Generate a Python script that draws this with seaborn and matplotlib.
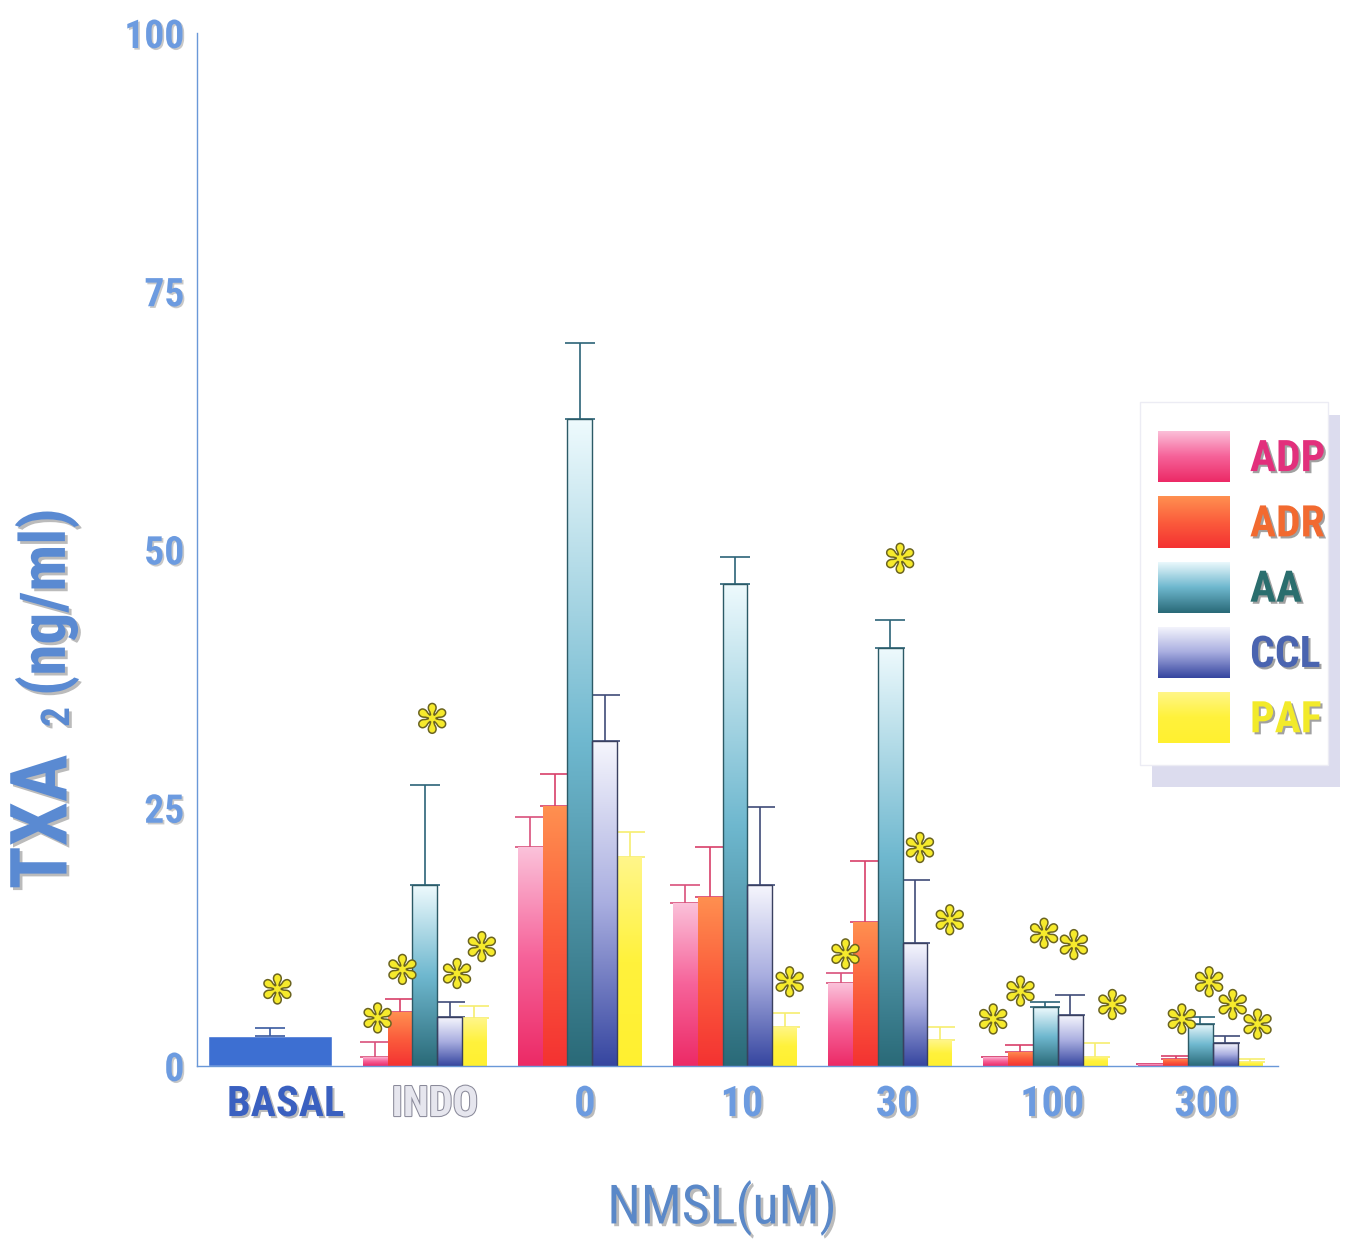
import numpy as np
import pandas as pd
import matplotlib
matplotlib.use("Agg")
import matplotlib.pyplot as plt
import seaborn as sns
from matplotlib import patheffects as pe
from matplotlib import font_manager as fm
from matplotlib import transforms as mtrans
from matplotlib.colors import LinearSegmentedColormap
from matplotlib.patches import Rectangle, Patch

# ---------------- data ----------------
categories = ["BASAL", "INDO", "0", "10", "30", "100", "300"]
agonists = ["ADP", "ADR", "AA", "CCL", "PAF"]
treatments = ["INDO", "0", "10", "30", "100", "300"]

basal_mean = 2.9
basal_err = 0.8

adp = [0.9, 21.2, 15.8, 8.0, 0.9, 0.15]
adr = [5.2, 25.2, 16.4, 13.9, 1.4, 0.7]
aa = [17.5, 62.6, 46.7, 40.5, 5.7, 4.1]
ccl = [4.7, 31.5, 17.5, 11.9, 4.9, 2.2]
paf = [4.6, 20.2, 3.8, 2.5, 0.9, 0.4]

adp_err = [1.4, 2.9, 1.7, 1.0, 0.0, 0.0]
adr_err = [1.3, 3.1, 4.8, 5.9, 0.6, 0.3]
aa_err = [9.7, 7.4, 2.6, 2.7, 0.5, 0.6]
ccl_err = [1.5, 4.4, 7.6, 6.1, 2.0, 0.7]
paf_err = [1.2, 2.5, 1.3, 1.3, 1.3, 0.3]

# significance asterisks: category, agonist (None = basal bar), height
star_cat = ["BASAL", "INDO", "INDO", "INDO", "INDO", "INDO", "10", "30", "30", "30", "30",
            "100", "100", "100", "100", "100", "300", "300", "300", "300"]
star_agonist = [None, "ADP", "ADR", "AA", "CCL", "PAF", "PAF", "ADP", "AA", "CCL", "PAF",
                "ADP", "ADR", "AA", "CCL", "PAF", "ADR", "AA", "CCL", "PAF"]
star_y = [7.1, 4.3, 9.0, 33.3, 8.6, 11.2, 7.8, 10.5, 48.8, 20.8, 13.8,
          4.2, 6.9, 12.5, 11.4, 5.6, 4.2, 7.8, 5.6, 3.7]
# horizontal nudge of each asterisk, in bar widths
star_dx = [0.0, 0.1, 0.1, 0.3, 0.3, 0.3, 0.2, 0.2, 0.4, 0.2, 0.4,
           -0.1, 0.0, -0.05, 0.15, 0.7, 0.25, 0.35, 0.3, 0.3]

# ---------------- styles ----------------
grad_stops = {
    "ADP": ["#fbc2da", "#f6639a", "#ec2a66"],
    "ADR": ["#ff9050", "#fb5c3c", "#f43232"],
    "AA": ["#eefafd", "#6fb8cf", "#2a6a78"],
    "CCL": ["#f6f6fd", "#a9aee0", "#3646a0"],
    "PAF": ["#fff68a", "#fff23c", "#fff030"],
}
mid_col = {k: v[1] for k, v in grad_stops.items()}
err_col = {"ADP": "#d9507c", "ADR": "#d8406a", "AA": "#2c6478", "CCL": "#3f4c78", "PAF": "#f6ee70"}
edge_col = {"ADP": "none", "ADR": "none", "AA": "#2c5a66", "CCL": "#3a4060", "PAF": "none"}
label_col = {"ADP": "#e2307c", "ADR": "#f26a30", "AA": "#2b6e6e", "CCL": "#4a64b0", "PAF": "#f2ea2a"}
axis_col = "#6a98d8"
tick_col = "#6c9be0"
basal_col = "#3d6fd2"

sns.set_style("white")
ttf = fm.fontManager.ttflist
names = {f.name for f in ttf}
if "Roboto Condensed" in names:
    FAM = ["Roboto Condensed", "DejaVu Sans"]
    k = 0.95
elif "Liberation Sans Narrow" in names:
    FAM = ["Liberation Sans Narrow", "DejaVu Sans"]
    k = 1.0
else:
    FAM = ["DejaVu Sans"]
    k = 0.68
plt.rcParams["font.family"] = FAM

W, H = 1349, 1242
fig = plt.figure(figsize=(W / 100, H / 100), dpi=100)
ax = fig.add_axes([197 / W, 1 - 1066 / H, (1278 - 197) / W, (1066 - 33) / H])

# ---------------- bars ----------------
n0 = len(ax.containers)
sns.barplot(x=["BASAL"], y=[basal_mean], order=categories, width=0.8, color=basal_col,
            saturation=1, errorbar=None, ax=ax)
basal_bar = ax.containers[n0][0]

values = {"ADP": adp, "ADR": adr, "AA": aa, "CCL": ccl, "PAF": paf}
errors = {"ADP": adp_err, "ADR": adr_err, "AA": aa_err, "CCL": ccl_err, "PAF": paf_err}
df = pd.DataFrame([(c, a, values[a][i]) for a in agonists for i, c in enumerate(treatments)],
                  columns=["cond", "agonist", "value"])
n1 = len(ax.containers)
sns.barplot(data=df, x="cond", y="value", hue="agonist", order=categories, hue_order=agonists,
            width=0.8, palette=mid_col, saturation=1, errorbar=None, legend=False, ax=ax)

bar_pos = {}
for a, cont in zip(agonists, ax.containers[n1:]):
    bars = sorted(cont.patches, key=lambda b: b.get_x())
    cmap = LinearSegmentedColormap.from_list(a, grad_stops[a])
    xs, hs = [], []
    for c, b in zip(treatments, bars):
        x0, w, h = b.get_x(), b.get_width(), b.get_height()
        im = ax.imshow(np.linspace(0, 1, 256).reshape(-1, 1), cmap=cmap,
                       extent=(x0, x0 + w, 0, h), origin="upper", aspect="auto",
                       interpolation="bicubic", zorder=2.1)
        im.set_clip_path(b)
        b.set_facecolor("none")
        b.set_edgecolor(edge_col[a])
        b.set_linewidth(1.0 if edge_col[a] != "none" else 0)
        b.set_zorder(2.2)
        xs.append(x0 + w / 2)
        hs.append(h)
        bar_pos[(c, a)] = (x0 + w / 2, w)
    ax.errorbar(xs, hs, yerr=[np.zeros(len(xs)), errors[a]], fmt="none",
                ecolor=err_col[a], elinewidth=1.2, capsize=11, capthick=1.2, zorder=1.8)

bx = basal_bar.get_x() + basal_bar.get_width() / 2
ax.errorbar([bx], [basal_mean], yerr=[[0], [basal_err]], fmt="none", ecolor="#3a5aa0",
            elinewidth=1.2, capsize=11, capthick=1.2, zorder=1.8)
bar_pos[("BASAL", None)] = (bx + 0.05, 0.0)

# ---------------- asterisks ----------------
for c, a, y, d in zip(star_cat, star_agonist, star_y, star_dx):
    x, w = bar_pos[(c, a)]
    ax.text(x + d * w, y, "\u273B", fontsize=27, color="#f6ea2c", ha="center", va="center",
            family="DejaVu Sans", zorder=5,
            path_effects=[pe.withStroke(linewidth=2.2, foreground="#6b6420")])

# ---------------- axes ----------------
ax.set_xlim(-0.468, 6.5)
ax.set_ylim(0, 100)
for s in ["top", "right"]:
    ax.spines[s].set_visible(False)
for s in ["left", "bottom"]:
    ax.spines[s].set_color(axis_col)
    ax.spines[s].set_linewidth(1.0)

ax.set_yticks([0, 25, 50, 75, 100])
ax.set_yticks(np.arange(12.5, 100, 25), minor=True)
ax.set_yticklabels(["0", "25", "50", "75", "100"])
ax.tick_params(axis="y", which="major", length=9, width=1, color=axis_col, direction="out",
               labelsize=30 * k, labelcolor=tick_col, pad=0)
ax.tick_params(axis="y", which="minor", length=6, width=1, color=axis_col, direction="out")
for t in ax.get_yticklabels():
    t.set_fontweight("bold")
    t.set_path_effects([pe.withSimplePatchShadow(offset=(1.2, -1.2), shadow_rgbFace="#777777", alpha=0.4)])

ax.set_xticks(range(len(categories)))
ax.set_xticks(np.arange(0.5, 7, 1), minor=True)
ax.set_xticklabels(categories)
ax.tick_params(axis="x", which="major", length=0, labelsize=32 * k, pad=13)
ax.tick_params(axis="x", which="minor", length=18, width=1, color=axis_col, direction="inout")
xcols = ["#3a60c0", "#e6e6ee"] + [tick_col] * 5
xshift_px = [16, 10, 5, 7, 7, 7, 6]
for t, col, sh in zip(ax.get_xticklabels(), xcols, xshift_px):
    t.set_color(col)
    t.set_fontweight("bold")
    t.set_transform(t.get_transform() + mtrans.ScaledTranslation(sh / 100, 0, fig.dpi_scale_trans))
    if col == "#e6e6ee":
        t.set_path_effects([pe.withStroke(linewidth=1.5, foreground="#8a8a9a")])
    else:
        t.set_path_effects([pe.withSimplePatchShadow(offset=(1.5, -1.5), shadow_rgbFace="#555555", alpha=0.4)])
ax.set_xlabel("")
ax.set_ylabel("")

shadow = [pe.withSimplePatchShadow(offset=(2, -2), shadow_rgbFace="#555555", alpha=0.4)]
ylab_col = "#5a8ad2"
fig.text(45 / W, 1 - 822 / H, "TXA", rotation=90, ha="center", va="center", fontsize=60 * k,
         fontweight="bold", color=ylab_col, path_effects=shadow)
fig.text(58 / W, 1 - 717 / H, "2", rotation=90, ha="center", va="center", fontsize=30 * k,
         fontweight="bold", color=ylab_col, path_effects=shadow)
fig.text(47 / W, 1 - 602 / H, "(ng/ml)", rotation=90, ha="center", va="center", fontsize=48 * k,
         fontweight="bold", color=ylab_col, path_effects=shadow)
fig.text(722 / W, 1 - 1208 / H, "NMSL(uM)", ha="center", va="center", fontsize=41 * k,
         color="#5a88c8", path_effects=shadow)

# ---------------- legend ----------------
fig.patches.append(Rectangle((1152 / W, 1 - 787 / H), 188 / W, 372 / H, transform=fig.transFigure,
                             facecolor="#dcdcee", edgecolor="none", zorder=1))
fig.patches.append(Rectangle((1140 / W, 1 - 765 / H), 188 / W, 363 / H, transform=fig.transFigure,
                             facecolor="white", edgecolor="#ececf4", linewidth=1, zorder=2))
fs = 33 * k
fs_px = fs * 100 / 72
handles = [Patch(facecolor=mid_col[a], edgecolor="none") for a in agonists]
leg = fig.legend(handles, agonists, loc="upper left", bbox_to_anchor=(1158 / W, 1 - 431 / H),
                 bbox_transform=fig.transFigure, frameon=False, borderpad=0, borderaxespad=0,
                 handlelength=72 / fs_px, handleheight=1.25 * 50 / fs_px, labelspacing=14 / fs_px,
                 handletextpad=20 / fs_px, prop={"size": fs, "weight": "bold", "family": FAM})
leg.set_zorder(5)
for t, a in zip(leg.get_texts(), agonists):
    t.set_color(label_col[a])
    t.set_path_effects([pe.withSimplePatchShadow(offset=(1.5, -1.5), shadow_rgbFace="#444444", alpha=0.5)])

fig.canvas.draw()
inv = fig.transFigure.inverted()
for p, a in zip(leg.get_patches(), agonists):
    bb = p.get_window_extent().transformed(inv)
    lax = fig.add_axes([bb.x0, bb.y0, bb.width, bb.height], zorder=6)
    cmap = LinearSegmentedColormap.from_list(a + "_leg", grad_stops[a])
    lax.imshow(np.linspace(0, 1, 64).reshape(-1, 1), cmap=cmap, aspect="auto", origin="upper",
               interpolation="bicubic")
    lax.set_axis_off()

fig.savefig("out.png", dpi=100)
